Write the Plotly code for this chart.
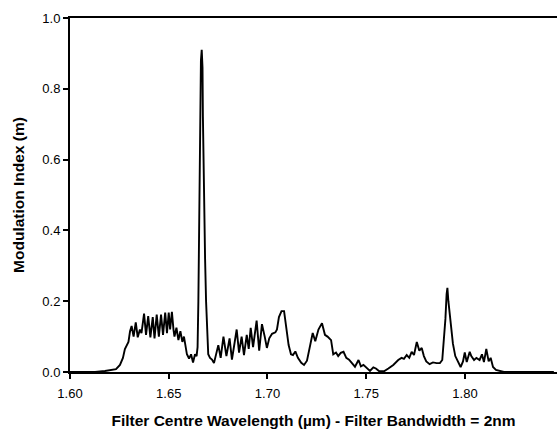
import plotly.graph_objects as go

# Filter centre wavelength (um)
wavelength = [
    1.6000, 1.6127, 1.6177, 1.6213, 1.6233, 1.6253, 1.6268, 1.6278, 1.6289, 1.6296,
    1.6304, 1.6312, 1.6322, 1.6333, 1.6343, 1.6354, 1.6362, 1.6375, 1.6385, 1.6396,
    1.6407, 1.6419, 1.6428, 1.6439, 1.6450, 1.6461, 1.6471, 1.6482, 1.6491, 1.6500,
    1.6507, 1.6516, 1.6524, 1.6529, 1.6539, 1.6549, 1.6559, 1.6569, 1.6577, 1.6585,
    1.6592, 1.6603, 1.6613, 1.6623, 1.6633, 1.6641, 1.6646, 1.6650, 1.6653, 1.6658,
    1.6663, 1.6667, 1.6671, 1.6673, 1.6678, 1.6684, 1.6689, 1.6694, 1.6700, 1.6709,
    1.6719, 1.6729, 1.6739, 1.6751, 1.6763, 1.6777, 1.6792, 1.6808, 1.6820, 1.6844,
    1.6856, 1.6869, 1.6881, 1.6895, 1.6905, 1.6915, 1.6927, 1.6945, 1.6958, 1.6972,
    1.6986, 1.6997, 1.7009, 1.7023, 1.7040, 1.7048, 1.7058, 1.7071, 1.7084, 1.7094,
    1.7107, 1.7119, 1.7129, 1.7141, 1.7154, 1.7171, 1.7185, 1.7200, 1.7215, 1.7229,
    1.7242, 1.7258, 1.7276, 1.7291, 1.7304, 1.7314, 1.7322, 1.7333, 1.7347, 1.7358,
    1.7371, 1.7385, 1.7399, 1.7413, 1.7428, 1.7443, 1.7461, 1.7473, 1.7486, 1.7502,
    1.7519, 1.7536, 1.7549, 1.7566, 1.7590, 1.7612, 1.7637, 1.7662, 1.7679, 1.7691,
    1.7705, 1.7718, 1.7730, 1.7742, 1.7756, 1.7769, 1.7781, 1.7792, 1.7804, 1.7821,
    1.7838, 1.7856, 1.7873, 1.7885, 1.7894, 1.7901, 1.7907, 1.7911, 1.7916, 1.7924,
    1.7932, 1.7939, 1.7951, 1.7965, 1.7978, 1.7990, 1.7999, 1.8009, 1.8024, 1.8032,
    1.8046, 1.8058, 1.8074, 1.8086, 1.8096, 1.8108, 1.8120, 1.8130, 1.8142, 1.8157,
    1.8177, 1.8197, 1.8450,
]

# Modulation index (m)
modulation = [
    0.000, 0.000, 0.003, 0.005, 0.008, 0.020, 0.040, 0.065, 0.075, 0.085,
    0.115, 0.130, 0.100, 0.140, 0.098, 0.120, 0.110, 0.165, 0.105, 0.158,
    0.098, 0.155, 0.095, 0.162, 0.100, 0.162, 0.105, 0.168, 0.110, 0.168,
    0.120, 0.170, 0.120, 0.100, 0.125, 0.090, 0.115, 0.085, 0.100, 0.070,
    0.050, 0.038, 0.050, 0.027, 0.050, 0.045, 0.070, 0.200, 0.400, 0.700,
    0.880, 0.910, 0.860, 0.720, 0.480, 0.320, 0.200, 0.110, 0.050, 0.040,
    0.035, 0.025, 0.050, 0.076, 0.040, 0.100, 0.045, 0.095, 0.035, 0.120,
    0.055, 0.100, 0.048, 0.105, 0.065, 0.125, 0.070, 0.145, 0.060, 0.135,
    0.100, 0.068, 0.095, 0.108, 0.112, 0.120, 0.155, 0.172, 0.172, 0.130,
    0.076, 0.050, 0.048, 0.058, 0.040, 0.026, 0.020, 0.032, 0.070, 0.110,
    0.087, 0.120, 0.138, 0.105, 0.100, 0.095, 0.090, 0.050, 0.055, 0.045,
    0.054, 0.057, 0.040, 0.035, 0.026, 0.015, 0.034, 0.016, 0.020, 0.012,
    0.003, 0.013, 0.010, 0.002, 0.002, 0.010, 0.020, 0.034, 0.040, 0.037,
    0.048, 0.040, 0.057, 0.048, 0.085, 0.060, 0.068, 0.045, 0.030, 0.022,
    0.027, 0.025, 0.025, 0.034, 0.090, 0.150, 0.220, 0.238, 0.200, 0.150,
    0.105, 0.080, 0.045, 0.028, 0.014, 0.030, 0.055, 0.028, 0.057, 0.045,
    0.034, 0.040, 0.034, 0.050, 0.028, 0.065, 0.030, 0.040, 0.014, 0.006,
    0.003, 0.000, 0.000,
]

x_ticks = [1.60, 1.65, 1.70, 1.75, 1.80]
x_tick_labels = ["1.60", "1.65", "1.70", "1.75", "1.80"]
y_ticks = [0.0, 0.2, 0.4, 0.6, 0.8, 1.0]
y_tick_labels = ["0.0", "0.2", "0.4", "0.6", "0.8", "1.0"]

fig = go.Figure()
fig.add_trace(go.Scatter(
    x=wavelength, y=modulation, mode="lines",
    line=dict(color="black", width=1.9),
    showlegend=False,
))

font_family = "Liberation Sans, Arial, sans-serif"

fig.update_layout(
    width=557, height=430,
    margin=dict(l=70, r=0, t=18, b=58),
    paper_bgcolor="white", plot_bgcolor="white",
    font=dict(family=font_family, size=13, color="black"),
    xaxis=dict(
        range=[1.60, 1.8466],
        tickvals=x_ticks, ticktext=x_tick_labels,
        showline=True, linecolor="black", linewidth=2, mirror=True,
        ticks="outside", ticklen=5, tickwidth=1.5, tickcolor="black",
        showgrid=False, zeroline=False,
        tickfont=dict(size=13),
        ticklabelstandoff=3,
        title=dict(text="<b>Filter Centre Wavelength (µm) - Filter Bandwidth = 2nm</b>",
                   font=dict(size=15.5), standoff=16),
        automargin=False,
    ),
    yaxis=dict(
        range=[0, 1.0],
        tickvals=y_ticks, ticktext=y_tick_labels,
        showline=True, linecolor="black", linewidth=2,
        ticks="outside", ticklen=5, tickwidth=1.5, tickcolor="black",
        showgrid=False, zeroline=False,
        tickfont=dict(size=13),
        title=dict(text="<b>Modulation Index (m)</b>", font=dict(size=15.5), standoff=14),
        automargin=False,
    ),
)

fig.write_html(
    "out.html",
    config={"displayModeBar": False},
    post_script="document.body.style.margin='0';document.body.style.overflow='hidden';",
)
